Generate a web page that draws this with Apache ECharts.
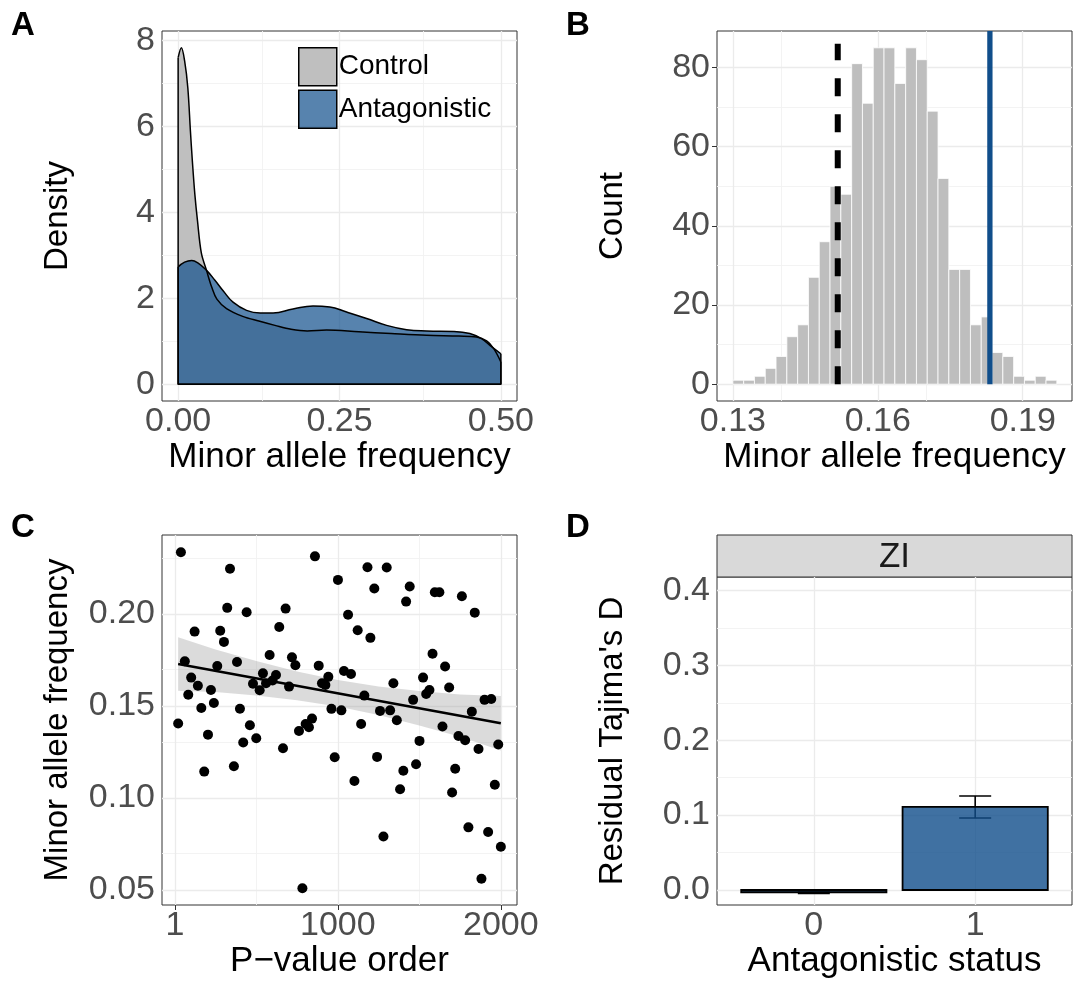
<!DOCTYPE html>
<html><head><meta charset="utf-8">
<script src="https://cdn.jsdelivr.net/npm/echarts@6/dist/echarts.min.js"></script>
<style>html,body{margin:0;padding:0;background:#fff}#c{width:1076px;height:981px}</style>
</head><body><div id="c"></div>
<script>
// ---------- Panel A: density of minor allele frequency ----------
const ctrlX = [0, 0.005, 0.010, 0.015, 0.019, 0.022, 0.026, 0.030, 0.036, 0.044, 0.052, 0.060, 0.075, 0.100, 0.125, 0.150, 0.175, 0.200, 0.230, 0.280, 0.330, 0.385, 0.435, 0.462, 0.478, 0.489, 0.500];
const ctrlY = [7.60, 7.83, 7.53, 6.90, 5.90, 5.20, 4.40, 3.80, 3.05, 2.65, 2.26, 1.98, 1.76, 1.58, 1.47, 1.37, 1.28, 1.24, 1.26, 1.22, 1.18, 1.14, 1.12, 1.10, 1.01, 0.83, 0.52];
const antX = [0, 0.010, 0.021, 0.031, 0.044, 0.057, 0.070, 0.085, 0.106, 0.127, 0.147, 0.178, 0.209, 0.235, 0.261, 0.292, 0.323, 0.354, 0.385, 0.427, 0.452, 0.470, 0.486, 0.500];
const antY = [2.73, 2.84, 2.88, 2.82, 2.65, 2.42, 2.17, 1.91, 1.72, 1.66, 1.66, 1.75, 1.82, 1.80, 1.68, 1.53, 1.37, 1.27, 1.24, 1.23, 1.18, 1.06, 0.87, 0.71];
const legendNames = ['Control', 'Antagonistic'];
const aXTicks = [0, 0.25, 0.5], aXMinor = [0.125, 0.375];
const aYTicks = [0, 2, 4, 6, 8], aYMinor = [1, 3, 5, 7];

// ---------- Panel B: permutation histogram ----------
const binCenters = [0.13110, 0.13334, 0.13557, 0.13781, 0.14004, 0.14228, 0.14452, 0.14675, 0.14899, 0.15122,
  0.15346, 0.15570, 0.15793, 0.16017, 0.16240, 0.16464, 0.16688, 0.16911, 0.17135, 0.17358,
  0.17582, 0.17806, 0.18029, 0.18253, 0.18476, 0.18700, 0.18924, 0.19147, 0.19371, 0.19594];
const binCounts = [1, 1, 2, 4, 7, 12, 15, 27, 36, 50, 48, 81, 71, 85, 85, 76, 85, 82, 69, 52, 29, 29, 15, 17, 8, 7, 2, 1, 2, 1];
const binWidth = 0.002236;
const nullLineX = 0.1517, nullLineTop = 86;      // dashed black segment
const obsLineX = 0.1832, obsLineTop = 89.25;     // solid blue line
const bXTicks = [0.13, 0.16, 0.19], bXMinor = [0.145, 0.175];
const bYTicks = [0, 20, 40, 60, 80], bYMinor = [10, 30, 50, 70];

// ---------- Panel C: scatter with linear fit ----------
const cX = [38, 860, 339, 1182, 1300, 1001, 1224, 1441, 1595, 1623, 1761, 1419, 322, 680, 441, 1063, 1840, 122, 279, 641,
  1122, 302, 1200, 1581, 582, 719, 740, 62, 382, 261, 883, 1658, 101, 142, 222, 83, 240, 163, 400, 480,
  521, 541, 560, 600, 621, 701, 903, 924, 942, 1038, 1081, 961, 1022, 1163, 1341, 1523, 1562, 1542, 1683, 1462,
  1259, 1321, 1822, 1900, 1941, 21, 461, 204, 420, 500, 762, 803, 823, 842, 1143, 1362, 1642, 1740, 1781, 1501,
  664, 1863, 1984, 981, 1241, 363, 181, 1402, 1480, 1720, 1102, 1382, 1701, 1963, 1801, 1922, 2000, 1280, 1881, 783];
const cY = [0.2335, 0.2313, 0.2246, 0.2254, 0.2252, 0.2185, 0.2138, 0.2149, 0.2118, 0.2118, 0.2096, 0.2067, 0.2033, 0.2029, 0.2009, 0.1996, 0.2007, 0.1904, 0.1909, 0.1929,
  0.1911, 0.1848, 0.1870, 0.1784, 0.1777, 0.1764, 0.1721, 0.1743, 0.1739, 0.1717, 0.1719, 0.1714, 0.1654, 0.1610, 0.1587, 0.1561, 0.1516, 0.1489, 0.1485, 0.1621,
  0.1585, 0.1677, 0.1623, 0.1638, 0.1668, 0.1605, 0.1623, 0.1614, 0.1658, 0.1690, 0.1674, 0.1484, 0.1476, 0.1556, 0.1623, 0.1654, 0.1587, 0.1565, 0.1600, 0.1533,
  0.1473, 0.1476, 0.1469, 0.1533, 0.1538, 0.1404, 0.1395, 0.1344, 0.1301, 0.1324, 0.1364, 0.1402, 0.1384, 0.1431, 0.1402, 0.1422, 0.1388, 0.1337, 0.1313, 0.1310,
  0.1270, 0.1266, 0.1290, 0.1221, 0.1223, 0.1172, 0.1143, 0.1148, 0.1183, 0.1159, 0.1092, 0.1047, 0.1029, 0.1072, 0.0840, 0.0815, 0.0735, 0.0790, 0.0561, 0.0509];
const fitX = [21, 2000];
const fitY = [0.1728, 0.1406];
const ribX = [21, 250, 500, 750, 1000, 1250, 1500, 1750, 2000];
const ribLo = [0.1583, 0.1576, 0.1556, 0.1531, 0.1497, 0.1450, 0.1393, 0.1332, 0.1258];
const ribHi = [0.1873, 0.1806, 0.1744, 0.1687, 0.1641, 0.1606, 0.1581, 0.1562, 0.1554];
const cXTicks = [1, 1000, 2000], cXMinor = [500.5, 1500];
const cYTicks = [0.05, 0.10, 0.15, 0.20], cYMinor = [0.075, 0.125, 0.175, 0.225];

// ---------- Panel D: bar with error bars ----------
const dX = [0, 1];
const dMean = [-0.003, 0.111];
const dLo = [-0.0045, 0.0961];
const dHi = [-0.0015, 0.1255];
const stripLabel = 'ZI';
const dXTicks = [0, 1];
const dYTicks = [0, 0.1, 0.2, 0.3, 0.4], dYMinor = [0.05, 0.15, 0.25, 0.35];

// ---------- styling helpers ----------
const FONT = 'Liberation Sans, Arial, Helvetica, sans-serif';
const BLUE = '#104E8B';
const grids = [
  {left: 162, top: 31, width: 355, height: 370},
  {left: 717, top: 31, width: 355, height: 370},
  {left: 162, top: 535, width: 355, height: 370},
  {left: 717, top: 577, width: 355, height: 328}
].map(g => Object.assign(g, {show: true, backgroundColor: '#fff', borderColor: '#333', borderWidth: 1, containLabel: false}));

function mkAxis(gi, min, max, ticks, fmt, name, nameGap, isY) {
  return {
    type: 'value', gridIndex: gi, min: min, max: max,
    name: name, nameLocation: 'middle', nameGap: nameGap, nameRotate: isY ? 90 : 0,
    nameTextStyle: {fontSize: isY ? 33 : 35, color: '#000', fontFamily: FONT},
    axisLine: {show: false}, splitLine: {show: false}, minorSplitLine: {show: false},
    axisTick: {show: true, customValues: ticks, length: 5, lineStyle: {color: '#333', width: 1}},
    axisLabel: {customValues: ticks, formatter: fmt, fontSize: 34, color: '#4d4d4d', fontFamily: FONT, margin: isY ? 7 : 4}
  };
}
function gridLines(gi, xMaj, xMin, yMaj, yMin) {
  const maj = {color: '#ebebeb', width: 1.3, type: 'solid'};
  const mnr = {color: '#f2f2f2', width: 0.9, type: 'solid'};
  const d = [];
  xMin.forEach(v => d.push({xAxis: v, lineStyle: mnr}));
  yMin.forEach(v => d.push({yAxis: v, lineStyle: mnr}));
  xMaj.forEach(v => d.push({xAxis: v, lineStyle: maj}));
  yMaj.forEach(v => d.push({yAxis: v, lineStyle: maj}));
  return {type: 'line', name: 'grid' + gi, xAxisIndex: gi, yAxisIndex: gi, data: [], silent: true, z: 1,
    markLine: {silent: true, z: 1, symbol: ['none', 'none'], label: {show: false}, animation: false,
      lineStyle: {type: 'solid'}, emphasis: {disabled: true}, data: d}};
}
function edges(gi, xs, ys) {
  const n = xs.length - 1;
  return {type: 'line', xAxisIndex: gi, yAxisIndex: gi, symbol: 'none', silent: true,
    data: [[xs[0], ys[0]], [xs[0], 0], [xs[n], 0], [xs[n], ys[n]]],
    lineStyle: {color: '#000', width: 1.5}};
}

const option = {
  animation: false,
  backgroundColor: '#fff',
  textStyle: {fontFamily: FONT},
  grid: grids,
  xAxis: [
    mkAxis(0, -0.025, 0.525, aXTicks, v => v.toFixed(2), 'Minor allele frequency', 34, false),
    mkAxis(1, 0.1267, 0.2002, bXTicks, v => v.toFixed(2), 'Minor allele frequency', 34, false),
    mkAxis(2, -78, 2099, cXTicks, v => String(v), 'P\u2212value order', 34, false),
    mkAxis(3, -0.6, 1.6, dXTicks, v => String(v), 'Antagonistic status', 34, false)
  ],
  yAxis: [
    mkAxis(0, -0.39, 8.22, aYTicks, v => String(v), 'Density', 88, true),
    mkAxis(1, -4.25, 89.25, bYTicks, v => String(v), 'Count', 88, true),
    mkAxis(2, 0.0418, 0.2429, cYTicks, v => v.toFixed(2), 'Minor allele frequency', 88, true),
    mkAxis(3, -0.02, 0.4179, dYTicks, v => v.toFixed(1), "Residual Tajima's D", 88, true)
  ],
  legend: {
    orient: 'vertical', left: 298, top: 47, padding: 0, itemWidth: 38, itemHeight: 38, itemGap: 3,
    selectedMode: false,
    textStyle: {fontSize: 28, color: '#000', fontFamily: FONT, padding: [0, 0, 0, -3]},
    data: [
      {name: legendNames[0], icon: 'rect', itemStyle: {color: '#bfbfbf', borderColor: '#000', borderWidth: 1.5}, lineStyle: {width: 0, opacity: 0}},
      {name: legendNames[1], icon: 'rect', itemStyle: {color: 'rgba(16,78,139,0.7)', borderColor: '#000', borderWidth: 1.5}, lineStyle: {width: 0, opacity: 0}}
    ]
  },
  graphic: [
    {type: 'text', left: 11, top: 9, style: {text: 'A', font: 'bold 33px ' + FONT, fill: '#000'}},
    {type: 'text', left: 566, top: 9, style: {text: 'B', font: 'bold 33px ' + FONT, fill: '#000'}},
    {type: 'text', left: 11, top: 511, style: {text: 'C', font: 'bold 33px ' + FONT, fill: '#000'}},
    {type: 'text', left: 566, top: 511, style: {text: 'D', font: 'bold 33px ' + FONT, fill: '#000'}},
    {type: 'rect', shape: {x: 717, y: 535, width: 355, height: 42}, style: {fill: '#d9d9d9', stroke: '#333', lineWidth: 1}},
    {type: 'text', x: 894.5, y: 557, style: {text: stripLabel, fontSize: 35, fontFamily: FONT, fill: '#1a1a1a', align: 'center', verticalAlign: 'middle'}}
  ],
  series: [
    // ----- A -----
    gridLines(0, aXTicks, aXMinor, aYTicks, aYMinor),
    {type: 'line', name: legendNames[0], xAxisIndex: 0, yAxisIndex: 0, symbol: 'none', smooth: 0.35,
      data: ctrlX.map((x, i) => [x, ctrlY[i]]),
      itemStyle: {color: '#bfbfbf'},
      lineStyle: {color: '#000', width: 1.5},
      areaStyle: {color: '#bfbfbf', opacity: 1}},
    edges(0, ctrlX, ctrlY),
    {type: 'line', name: legendNames[1], xAxisIndex: 0, yAxisIndex: 0, symbol: 'none', smooth: 0.45,
      data: antX.map((x, i) => [x, antY[i]]),
      itemStyle: {color: BLUE},
      lineStyle: {color: '#000', width: 1.5},
      areaStyle: {color: BLUE, opacity: 0.7}},
    edges(0, antX, antY),
    // ----- B -----
    gridLines(1, bXTicks, bXMinor, bYTicks, bYMinor),
    {type: 'custom', xAxisIndex: 1, yAxisIndex: 1, silent: true,
      data: binCenters.map((c, i) => [c, binCounts[i]]),
      encode: {x: 0, y: 1},
      renderItem: function (params, api) {
        const c = api.value(0), n = api.value(1);
        const p0 = api.coord([c - binWidth / 2, n]);
        const p1 = api.coord([c + binWidth / 2, 0]);
        return {type: 'rect', shape: {x: p0[0], y: p0[1], width: p1[0] - p0[0], height: p1[1] - p0[1]},
          style: {fill: '#bebebe', stroke: '#fff', lineWidth: 0.8}};
      }},
    {type: 'line', xAxisIndex: 1, yAxisIndex: 1, symbol: 'none', silent: true,
      data: [[nullLineX, 0], [nullLineX, nullLineTop]],
      lineStyle: {color: '#000', width: 6, type: [18, 18]}},
    {type: 'line', xAxisIndex: 1, yAxisIndex: 1, symbol: 'none', silent: true,
      data: [[obsLineX, 0], [obsLineX, obsLineTop]],
      lineStyle: {color: BLUE, width: 5.3}},
    // ----- C -----
    gridLines(2, cXTicks, cXMinor, cYTicks, cYMinor),
    {type: 'scatter', xAxisIndex: 2, yAxisIndex: 2, symbolSize: 10, silent: true,
      data: cX.map((x, i) => [x, cY[i]]),
      itemStyle: {color: '#000', opacity: 1}},
    {type: 'custom', xAxisIndex: 2, yAxisIndex: 2, silent: true,
      data: [[ribX[0], ribLo[0]]],
      encode: {x: 0, y: 1},
      renderItem: function (params, api) {
        const pts = [];
        for (let i = 0; i < ribX.length; i++) pts.push(api.coord([ribX[i], ribHi[i]]));
        for (let i = ribX.length - 1; i >= 0; i--) pts.push(api.coord([ribX[i], ribLo[i]]));
        return {type: 'polygon', shape: {points: pts}, style: {fill: 'rgba(153,153,153,0.35)'}};
      }},
    {type: 'line', xAxisIndex: 2, yAxisIndex: 2, symbol: 'none', silent: true,
      data: fitX.map((x, i) => [x, fitY[i]]),
      lineStyle: {color: '#000', width: 2.6}},
    // ----- D -----
    gridLines(3, dXTicks, [], dYTicks, dYMinor),
    {type: 'custom', xAxisIndex: 3, yAxisIndex: 3, silent: true,
      data: dX.map((x, i) => [x, dLo[i], dHi[i]]),
      encode: {x: 0, y: [1, 2]},
      renderItem: function (params, api) {
        const x = api.value(0);
        const lo = api.coord([x, api.value(1)]);
        const hi = api.coord([x, api.value(2)]);
        const hw = 16;
        const st = {stroke: '#000', lineWidth: 1.6};
        return {type: 'group', children: [
          {type: 'line', shape: {x1: hi[0], y1: hi[1], x2: lo[0], y2: lo[1]}, style: st},
          {type: 'line', shape: {x1: hi[0] - hw, y1: hi[1], x2: hi[0] + hw, y2: hi[1]}, style: st},
          {type: 'line', shape: {x1: lo[0] - hw, y1: lo[1], x2: lo[0] + hw, y2: lo[1]}, style: st}
        ]};
      }},
    {type: 'custom', xAxisIndex: 3, yAxisIndex: 3, silent: true,
      data: dX.map((x, i) => [x, dMean[i]]),
      encode: {x: 0, y: 1},
      renderItem: function (params, api) {
        const x = api.value(0), v = api.value(1);
        const a = api.coord([x - 0.45, v]);
        const b = api.coord([x + 0.45, 0]);
        const y0 = Math.min(a[1], b[1]), h = Math.abs(b[1] - a[1]);
        return {type: 'rect', shape: {x: a[0], y: y0, width: b[0] - a[0], height: h},
          style: {fill: 'rgba(16,78,139,0.8)', stroke: '#000', lineWidth: 1.8}};
      }}
  ]
};
const chart = echarts.init(document.getElementById('c'), null, {renderer: 'canvas'});
chart.setOption(option);
</script></body></html>
